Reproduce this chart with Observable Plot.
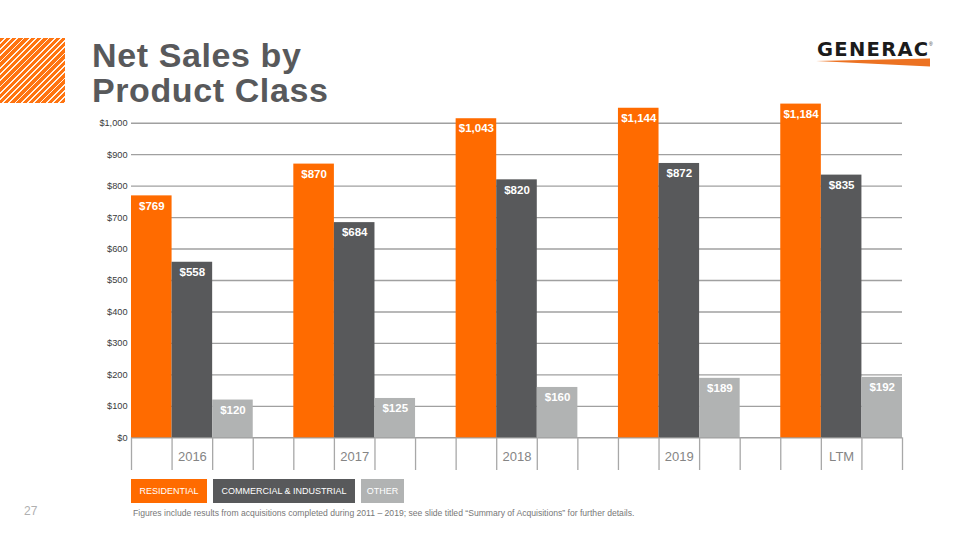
<!DOCTYPE html>
<html>
<head>
<meta charset="utf-8">
<script src="https://cdn.jsdelivr.net/npm/d3@7"></script>
<script src="https://cdn.jsdelivr.net/npm/@observablehq/plot@0.6"></script>
<style>
  html, body { margin: 0; padding: 0; background: #fff; }
  body { width: 959px; height: 540px; position: relative; overflow: hidden; font-family: "Liberation Sans", Arial, sans-serif; }
  #chart { position: absolute; left: 0; top: 0; }
  .hatch { position: absolute; left: 0; top: 38px; width: 65px; height: 65px;
    background: repeating-linear-gradient(135deg, #ff7410 0 3.2px, #fff3e8 3.2px 4.4px); }
  .title { position: absolute; left: 92px; top: 38.3px; font-size: 34px; line-height: 34.4px; font-weight: bold; color: #58595b; letter-spacing: 0.6px; }
  .logo { position: absolute; left: 817px; top: 40.2px; font-family: "DejaVu Sans", sans-serif; font-weight: bold; font-size: 19.5px; line-height: 19.5px; letter-spacing: 1.3px; color: #1b1b1b; }
  .reg { position: absolute; left: 929px; top: 41px; font-size: 5px; color: #333; }
  .swoosh { position: absolute; left: 815px; top: 57px; }
  .legend { position: absolute; left: 131px; top: 479px; display: flex; }
  .legend div { height: 24px; line-height: 24px; color: #fff; font-size: 9px; text-align: center; }
  .page { position: absolute; left: 24px; top: 504px; font-size: 12px; color: #b0b0b0; }
  .note { position: absolute; left: 133px; top: 508px; font-size: 8.6px; color: #777; white-space: nowrap; }
  g[aria-label="value labels"] text { letter-spacing: -0.4px; }
</style>
</head>
<body>
<div class="hatch"></div>
<div class="title">Net Sales by<br>Product Class</div>
<div class="logo">GENERAC</div>
<div class="reg">®</div>
<svg class="swoosh" width="116" height="10"><polygon points="1,4 115,1.5 115,9.5" fill="#ec7222"/></svg>
<div id="chart"></div>
<div class="legend" id="legend"></div>
<div class="page">27</div>
<div class="note">Figures include results from acquisitions completed during 2011 – 2019; see slide titled “Summary of Acquisitions” for further details.</div>
<script>
const categories = ["2016", "2017", "2018", "2019", "LTM"];
const residential = [769, 870, 1043, 1144, 1184];
const commercial = [558, 684, 820, 872, 835];
const other = [120, 125, 160, 189, 192];
const seriesNames = ["RESIDENTIAL", "COMMERCIAL & INDUSTRIAL", "OTHER"];
const seriesColors = ["#ff6b00", "#58595b", "#b1b3b3"];
const yTicks = [0, 100, 200, 300, 400, 500, 600, 700, 800, 900, 1000];

const seriesValues = [residential, commercial, other];
const seriesKeys = ["R", "C", "O"];

// slots: three bars per category plus an empty gap slot between categories
const slots = categories.flatMap((c, i) => {
  const s = seriesKeys.map(k => c + "|" + k);
  if (i < categories.length - 1) s.push(c + "|gap");
  return s;
});

const rows = categories.flatMap((c, i) =>
  seriesKeys.map((k, j) => ({slot: c + "|" + k, value: seriesValues[j][i], series: seriesNames[j]}))
);

const marginLeft = 131, marginRight = 57;
const bw = (959 - marginLeft - marginRight) / slots.length;
const money = d => "$" + d3.format(",")(d);
// the original slide compresses the axis above $1,000 (bars run past the top gridline)
const compressTop = v => v <= 1000 ? v : 1000 + (v - 1000) * 0.33;

const chart = Plot.plot({
  width: 959,
  height: 470,
  marginLeft, marginRight, marginTop: 0, marginBottom: 0,
  style: {fontFamily: "'Liberation Sans', Arial, sans-serif", background: "transparent"},
  x: {type: "band", domain: slots, padding: 0, round: false, axis: null},
  y: {domain: [0, 1000], range: [437.3, 122.7], transform: compressTop},
  color: {domain: seriesNames, range: seriesColors},
  marks: [
    Plot.ruleY(yTicks, {stroke: "#a0a0a0", strokeWidth: 1.4}),
    Plot.axisY(yTicks, {tickFormat: money, tickSize: 0, tickPadding: 4, fontSize: 9.2, fill: "#3a3a3a", label: null}),
    Plot.ruleX(slots, {x: d => d, y1: 0, y2: 0, insetBottom: -32.7, dx: -bw / 2, stroke: "#a8a8a8", strokeWidth: 1.3}),
    Plot.ruleX([slots[slots.length - 1]], {x: d => d, y1: 0, y2: 0, insetBottom: -32.7, dx: bw / 2, stroke: "#a8a8a8", strokeWidth: 1.3}),
    Plot.barY(rows, {x: "slot", y: "value", fill: "series"}),
    Plot.text(rows, {x: "slot", y: "value", text: d => money(d.value), dy: 10, fill: "#fff", fontWeight: "bold", fontSize: 11.5, ariaLabel: "value labels"}),
    Plot.text(categories, {x: c => c + "|C", y: 0, text: d => d, dy: 19.5, fill: "#858585", fontSize: 13})
  ]
});
document.getElementById("chart").appendChild(chart);

const legendWidths = [76, 142, 43];
const legend = document.getElementById("legend");
seriesNames.forEach((n, i) => {
  const d = document.createElement("div");
  d.textContent = n;
  d.style.background = seriesColors[i];
  d.style.width = legendWidths[i] + "px";
  d.style.marginRight = "6px";
  legend.appendChild(d);
});
</script>
</body>
</html>
